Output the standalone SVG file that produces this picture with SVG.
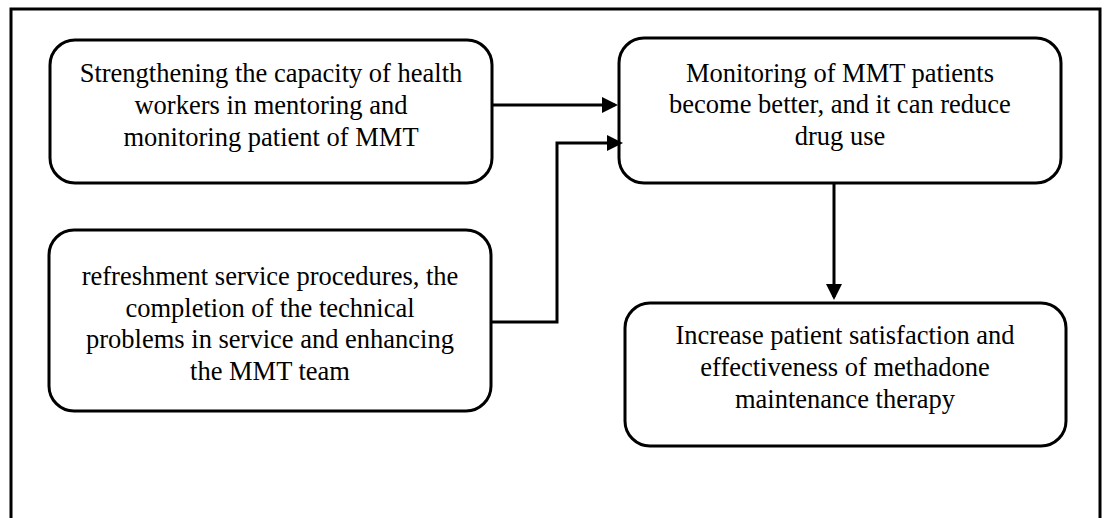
<svg xmlns="http://www.w3.org/2000/svg" width="1105" height="518" viewBox="0 0 1105 518">
<style>
.box{fill:#fff;stroke:#000;stroke-width:3}
.t{font-family:"Liberation Serif","Times New Roman",serif;font-size:26.5px;fill:#000;text-anchor:middle}
.c{fill:none;stroke:#000;stroke-width:3}
</style>
<defs>
<marker id="ah" markerWidth="16" markerHeight="16" refX="13" refY="8" orient="auto" markerUnits="userSpaceOnUse">
<path d="M0,0 L16,8 L0,16 z" fill="#000"/>
</marker>
</defs>
<rect x="0" y="0" width="1105" height="518" fill="#fff"/>
<rect x="11" y="9" width="1089" height="530" fill="none" stroke="#000" stroke-width="3"/>
<g id="n1">
<rect class="box" x="50" y="40" width="442" height="143" rx="25"/>
<text class="t" x="271" y="82">Strengthening the capacity of health</text>
<text class="t" x="271" y="114">workers in mentoring and</text>
<text class="t" x="271" y="146">monitoring patient of MMT</text>
</g>
<g id="n2">
<rect class="box" x="619" y="38" width="442" height="145" rx="25"/>
<text class="t" x="840" y="82">Monitoring of MMT patients</text>
<text class="t" x="840" y="113">become better, and it can reduce</text>
<text class="t" x="840" y="145">drug use</text>
</g>
<g id="n3">
<rect class="box" x="49" y="230" width="442" height="181" rx="25"/>
<text class="t" x="270" y="285">refreshment service procedures, the</text>
<text class="t" x="270" y="317">completion of the technical</text>
<text class="t" x="270" y="348">problems in service and enhancing</text>
<text class="t" x="270" y="380">the MMT team</text>
</g>
<g id="n4">
<rect class="box" x="625" y="303" width="441" height="143" rx="25"/>
<text class="t" x="845" y="344">Increase patient satisfaction and</text>
<text class="t" x="845" y="376">effectiveness of methadone</text>
<text class="t" x="845" y="408">maintenance therapy</text>
</g>
<g id="connectors">
<path class="c" d="M492,105 H615" marker-end="url(#ah)"/>
<path class="c" d="M491,322 H557 V143 H620" marker-end="url(#ah)"/>
<path class="c" d="M834,183 V297" marker-end="url(#ah)"/>
</g>
</svg>
